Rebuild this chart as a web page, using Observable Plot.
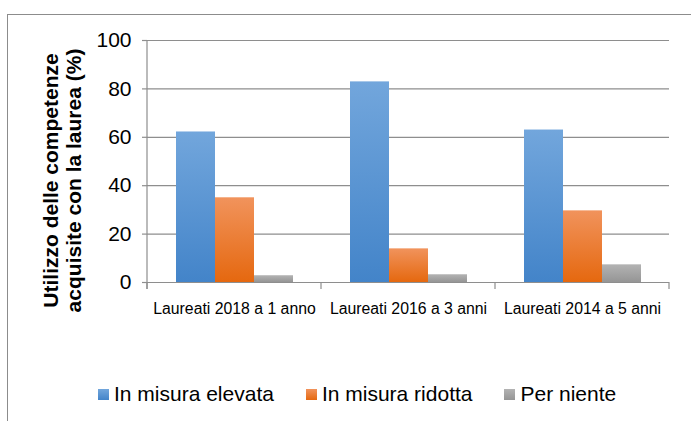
<!DOCTYPE html>
<html><head><meta charset="utf-8">
<script src="https://cdn.jsdelivr.net/npm/d3@7"></script>
<script src="https://cdn.jsdelivr.net/npm/@observablehq/plot@0.6"></script>
<style>
body{margin:0;background:#fff;font-family:"Liberation Sans",Arial,sans-serif;}
#wrap{position:relative;width:691px;height:421px;overflow:hidden;}
#border{position:absolute;left:7px;top:14px;width:900px;height:600px;border:1px solid #8c8c8c;}
#chart{position:absolute;left:0;top:0;}
#legend{position:absolute;left:98px;top:381px;display:flex;align-items:center;font-size:21px;color:#000;line-height:26px;}
.item{display:flex;align-items:center;margin-right:32px;}
.sw{width:11px;height:11px;margin-right:5px;}
</style></head><body>
<div id="wrap"><div id="border"></div><div id="chart"></div><div id="legend"></div></div>
<script>
const categories = ["Laureati 2018 a 1 anno", "Laureati 2016 a 3 anni", "Laureati 2014 a 5 anni"];
const series = ["In misura elevata", "In misura ridotta", "Per niente"];
const elevata = [62.2, 82.9, 63.0];
const ridotta = [35.0, 13.9, 29.6];
const perNiente = [2.8, 3.2, 7.3];
const yTicks = [0, 20, 40, 60, 80, 100];
const colorsTop = ["#72a6dc", "#f1935c", "#b3b3b3"];
const colorsBottom = ["#4384c9", "#e5680f", "#959595"];
const gradIds = ["gBlue", "gOrange", "gGray"];
const yTitle = "Utilizzo delle competenze\nacquisite con la laurea (%)";

const valuesBySeries = [elevata, ridotta, perNiente];
const data = categories.flatMap((c, i) => series.map((s, j) => ({category: c, series: s, value: valuesBySeries[j][i]})));

const axisColor = "#8e8e8e";

const plot = Plot.plot({
  width: 691, height: 330,
  marginTop: 40, marginBottom: 48, marginLeft: 147, marginRight: 22,
  style: {fontFamily: "Liberation Sans, Arial, sans-serif", color: "#000", background: "transparent", overflow: "visible"},
  fx: {domain: categories, padding: 0, label: null},
  x: {domain: series, paddingInner: 0, paddingOuter: 0.73, axis: null},
  y: {domain: [0, 100]},
  color: {domain: series, range: gradIds.map(id => `url(#${id})`)},
  marks: [
    Plot.gridY(yTicks, {stroke: axisColor, strokeOpacity: 1, strokeWidth: 1.2}),
    Plot.axisY(yTicks, {tickSize: 5, tickPadding: 11, fontSize: 21, label: null, stroke: axisColor, strokeWidth: 1.2, fill: "#000"}),
    Plot.axisFx({anchor: "bottom", tickSize: 0, tickPadding: 20, fontSize: 15.8, label: null, fill: "#000"}),
    Plot.barY(data, {fx: "category", x: "series", y: "value", fill: "series"}),
    Plot.ruleY([0], {stroke: axisColor, strokeWidth: 1.2}),
    Plot.text([yTitle], {frameAnchor: "left", facet: "super", rotate: -90, dx: -85, dy: 19, fontSize: 21, fontWeight: "bold", lineHeight: 1.07, textAnchor: "middle", lineAnchor: "middle", fill: "#000"})
  ]
});

// gradients
const svg = d3.select(plot);
const defs = svg.insert("defs", ":first-child");
gradIds.forEach((id, i) => {
  const g = defs.append("linearGradient").attr("id", id).attr("x1", 0).attr("y1", 0).attr("x2", 0).attr("y2", 1);
  g.append("stop").attr("offset", "0%").attr("stop-color", colorsTop[i]);
  g.append("stop").attr("offset", "100%").attr("stop-color", colorsBottom[i]);
});

// axis lines and category boundary ticks, placed through Plot's scales
const fx = plot.scale("fx");
const y = plot.scale("y");
const y0 = y.apply(0), y100 = y.apply(100);
const bounds = categories.map(c => fx.apply(c)).concat([fx.apply(categories[categories.length - 1]) + fx.bandwidth]);
const axG = svg.append("g").attr("stroke", axisColor).attr("stroke-width", 1.2);
axG.append("line").attr("x1", bounds[0]).attr("x2", bounds[0]).attr("y1", y100).attr("y2", y0 + 7);
bounds.forEach(b => axG.append("line").attr("x1", b).attr("x2", b).attr("y1", y0).attr("y2", y0 + 7));

document.getElementById("chart").appendChild(plot);

// legend
const legend = d3.select("#legend");
series.forEach((s, i) => {
  const it = legend.append("div").attr("class", "item");
  it.append("div").attr("class", "sw").style("background", `linear-gradient(${colorsTop[i]}, ${colorsBottom[i]})`);
  it.append("span").text(s);
});
</script>
</body></html>
